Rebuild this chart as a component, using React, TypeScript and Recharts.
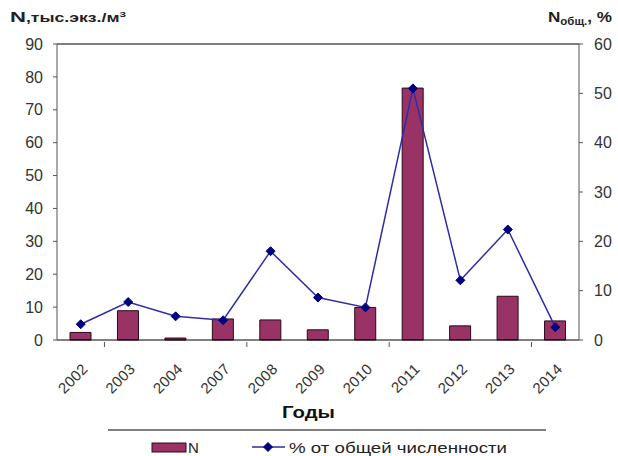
import {
  Bar,
  Line,
  ComposedChart,
  XAxis,
  YAxis,
  ReferenceLine,
} from 'recharts';

const YEARS = ['2002', '2003', '2004', '2007', '2008', '2009', '2010', '2011', '2012', '2013', '2014'];
// N, тыс. экз./м3 (left axis)
const N_VALUES = [2.3, 8.9, 0.6, 6.4, 6.1, 3.1, 9.9, 76.6, 4.3, 13.3, 5.8];
// % от общей численности (right axis)
const PCT_VALUES = [3.2, 7.7, 4.8, 4.0, 18.0, 8.6, 6.6, 51.0, 12.1, 22.4, 2.6];
const LEFT_TICKS = [0, 10, 20, 30, 40, 50, 60, 70, 80, 90];
const RIGHT_TICKS = [0, 10, 20, 30, 40, 50, 60];

const W = 618;
const H = 456;
const PLOT_LEFT = 57;
const PLOT_RIGHT = 579;
const FONT = '"Liberation Sans", Arial, sans-serif';

const COLORS = {
  bar: '#993366',
  barStroke: '#2a0a18',
  line: '#2d2da6',
  marker: '#000080',
  axis: '#555',
  text: '#333',
};

const data = YEARS.map((year, i) => ({
  year,
  n: N_VALUES[i],
  pct: PCT_VALUES[i],
}));

const BAND = (PLOT_RIGHT - PLOT_LEFT) / YEARS.length;

function YearTick({ x, y, payload, index }: any) {
  // Excel-style: a tick mark at every third category boundary
  const showMark = index % 3 === 0 && index < YEARS.length - 1;
  return (
    <g>
      {showMark && (
        <line x1={x + BAND / 2} x2={x + BAND / 2} y1={y - 6} y2={y - 1} stroke={COLORS.axis} />
      )}
      <text
        transform={`translate(${x + 8},${y + 22}) rotate(-45)`}
        textAnchor="end"
        fontSize={15}
        fontFamily={FONT}
        fill={COLORS.text}
        letterSpacing={0.3}
      >
        {payload.value}
      </text>
    </g>
  );
}

function Diamond({ cx, cy }: any) {
  if (cx == null || cy == null) return null;
  const r = 4.5;
  return (
    <path
      d={`M${cx},${cy - r} L${cx + r},${cy} L${cx},${cy + r} L${cx - r},${cy} Z`}
      fill={COLORS.marker}
      stroke={COLORS.marker}
    />
  );
}

function Overlay() {
  return (
    <svg width={W} height={H} style={{ position: 'absolute', left: 0, top: 0, pointerEvents: 'none' }}>
      {/* axis titles */}
      <text x={10} y={22} fontFamily={FONT} fill="#222" fontWeight="bold" textLength={116} lengthAdjust="spacingAndGlyphs">
        <tspan fontSize={15}>N</tspan>
        <tspan fontSize={12}>,тыс.экз./м</tspan>
        <tspan fontSize={8} dy={-5}>3</tspan>
      </text>
      <text x={548} y={22} fontFamily={FONT} fill="#222" fontWeight="bold" textLength={64} lengthAdjust="spacingAndGlyphs">
        <tspan fontSize={15}>N</tspan>
        <tspan fontSize={10} dy={3}>общ.</tspan>
        <tspan fontSize={15} dy={-3}>, %</tspan>
      </text>
      <text x={282} y={418} fontFamily={FONT} fontSize={16} fontWeight="bold" fill="#111" textLength={53} lengthAdjust="spacingAndGlyphs">
        Годы
      </text>

      {/* legend */}
      <line x1={108} x2={546} y1={430} y2={430} stroke="#000" strokeWidth={1.2} />
      <rect x={152} y={443} width={34} height={9} fill={COLORS.bar} stroke={COLORS.barStroke} />
      <text x={188} y={453} fontSize={15} fontFamily={FONT} fill="#222">N</text>
      <line x1={252} x2={285} y1={447} y2={447} stroke={COLORS.line} strokeWidth={1.5} />
      <Diamond cx={268} cy={447} />
      <text x={289} y={453} fontSize={15} fontFamily={FONT} fill="#222" textLength={218} lengthAdjust="spacingAndGlyphs">
        % от общей численности
      </text>
    </svg>
  );
}

export default function App() {
  return (
    <div style={{ position: 'absolute', left: 0, top: 0, width: W, height: H, background: '#fff' }}>
      <ComposedChart
        width={W}
        height={H}
        data={data}
        margin={{ top: 44, right: 0, left: 0, bottom: 0 }}
        barSize={21}
      >
        <XAxis
          dataKey="year"
          xAxisId="x"
          height={116}
          interval={0}
          tickLine={false}
          axisLine={{ stroke: '#000' }}
          tick={<YearTick />}
        />
        <YAxis
          yAxisId="left"
          orientation="left"
          width={PLOT_LEFT}
          domain={[0, 90]}
          ticks={LEFT_TICKS}
          interval={0}
          tickSize={4}
          tickMargin={10}
          axisLine={{ stroke: COLORS.axis }}
          tickLine={{ stroke: COLORS.axis }}
          tick={{ fontSize: 16, fontFamily: FONT, fill: COLORS.text }}
        />
        <YAxis
          yAxisId="right"
          orientation="right"
          width={W - PLOT_RIGHT}
          domain={[0, 60]}
          ticks={RIGHT_TICKS}
          interval={0}
          tickSize={4}
          tickMargin={11}
          axisLine={{ stroke: COLORS.axis }}
          tickLine={{ stroke: COLORS.axis }}
          tick={{ fontSize: 16, fontFamily: FONT, fill: COLORS.text }}
        />
        <ReferenceLine yAxisId="left" xAxisId="x" y={90} stroke={COLORS.axis} strokeWidth={1.5} />
        <Bar
          xAxisId="x"
          yAxisId="left"
          dataKey="n"
          name="N"
          fill={COLORS.bar}
          stroke={COLORS.barStroke}
          strokeWidth={1}
          isAnimationActive={false}
        />
        <Line
          xAxisId="x"
          yAxisId="right"
          type="linear"
          dataKey="pct"
          name="% от общей численности"
          stroke={COLORS.line}
          strokeWidth={1.5}
          dot={<Diamond />}
          activeDot={false}
          isAnimationActive={false}
        />
      </ComposedChart>
      <Overlay />
    </div>
  );
}
